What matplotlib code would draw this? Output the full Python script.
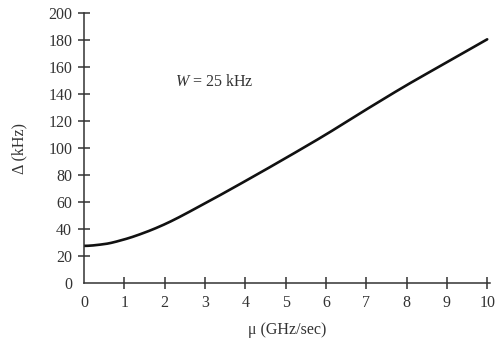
import matplotlib
matplotlib.use("Agg")
import matplotlib.pyplot as plt
import numpy as np

# Sweep rate (GHz/sec) and resulting frequency deviation (kHz)
mu = [0, 0.5, 1, 1.5, 2, 3, 4, 5, 6, 7, 8, 9, 10]
delta = [27.5, 28.8, 32.3, 37.3, 43.5, 59, 75.5, 92.5, 110, 128.5, 146.5, 163.5, 180.5]

x_ticks = [0, 1, 2, 3, 4, 5, 6, 7, 8, 9, 10]
y_ticks = [0, 20, 40, 60, 80, 100, 120, 140, 160, 180, 200]

plt.rcParams['font.family'] = ['Liberation Serif', 'DejaVu Serif']
plt.rcParams['mathtext.fontset'] = 'custom'
plt.rcParams['mathtext.rm'] = 'Liberation Serif'
plt.rcParams['mathtext.it'] = 'Liberation Serif:italic'

FS = 11.5
INK = '#333333'


def pchip(x, y, xs):
    """Monotone cubic Hermite interpolation (Fritsch-Carlson)."""
    x = np.asarray(x, float)
    y = np.asarray(y, float)
    h = np.diff(x)
    d = np.diff(y) / h
    m = np.zeros_like(y)
    for k in range(1, len(x) - 1):
        if d[k - 1] * d[k] > 0:
            w1 = 2 * h[k] + h[k - 1]
            w2 = h[k] + 2 * h[k - 1]
            m[k] = (w1 + w2) / (w1 / d[k - 1] + w2 / d[k])
    m[0] = 0.0
    m[-1] = d[-1]
    idx = np.clip(np.searchsorted(x, xs) - 1, 0, len(x) - 2)
    t = (xs - x[idx]) / h[idx]
    h00 = 2 * t**3 - 3 * t**2 + 1
    h10 = t**3 - 2 * t**2 + t
    h01 = -2 * t**3 + 3 * t**2
    h11 = t**3 - t**2
    return (h00 * y[idx] + h10 * h[idx] * m[idx]
            + h01 * y[idx + 1] + h11 * h[idx] * m[idx + 1])


fig = plt.figure(figsize=(4.96, 3.39), dpi=100)
ax = fig.add_axes([84 / 496, 1 - 283 / 339, 406 / 496, 270 / 339])

xs = np.linspace(mu[0], mu[-1], 400)
ax.plot(xs, pchip(mu, delta, xs), color='#111111', lw=1.9,
        solid_capstyle='round')

ax.set_xlim(0, 10.07)
ax.set_ylim(0, 200)
ax.set_xticks(x_ticks)
ax.set_yticks(y_ticks)

for s in ('top', 'right'):
    ax.spines[s].set_visible(False)
for s in ('left', 'bottom'):
    ax.spines[s].set_color(INK)
    ax.spines[s].set_linewidth(1.1)

ax.tick_params(axis='both', direction='inout', length=9, width=1.1,
               color=INK, labelsize=FS, labelcolor=INK)
ax.tick_params(axis='y', pad=4)
ax.tick_params(axis='x', pad=4)
# no tick mark at the origin on either axis
ax.xaxis.get_major_ticks()[0].tick1line.set_visible(False)
ax.yaxis.get_major_ticks()[0].tick1line.set_visible(False)

ax.set_xlabel('μ (GHz/sec)', fontsize=FS, color=INK, labelpad=8)
ax.set_ylabel('Δ (kHz)', fontsize=FS, color=INK, labelpad=15)

ax.text(2.26, 149, r'$W$ = 25 kHz', fontsize=FS, color=INK,
        ha='left', va='center')

fig.savefig('out.png', dpi=100)
